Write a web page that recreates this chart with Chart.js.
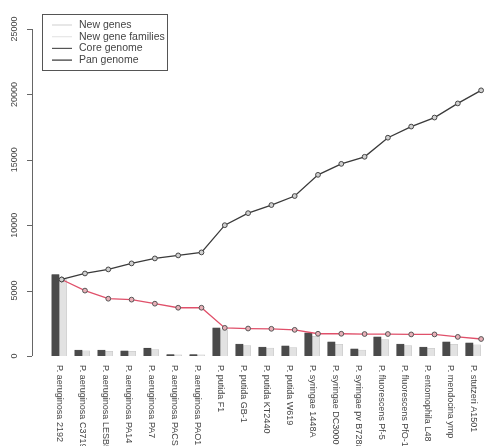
<!DOCTYPE html>
<html>
<head>
<meta charset="utf-8">
<script src="https://cdn.jsdelivr.net/npm/chart.js@4"></script>
<style>
  body { margin: 0; background: #fff; }
  #wrap { width: 489px; height: 446px; position: relative; }
</style>
</head>
<body>
<div id="wrap"><canvas id="genomeChart"></canvas></div>
<script>
const strains = [
    'P. aeruginosa 2192', 'P. aeruginosa C3719', 'P. aeruginosa LESB58', 'P. aeruginosa PA14',
    'P. aeruginosa PA7', 'P. aeruginosa PACS2', 'P. aeruginosa PAO1', 'P. putida F1',
    'P. putida GB-1', 'P. putida KT2440', 'P. putida W619', 'P. syringae 1448A',
    'P. syringae DC3000', 'P. syringae pv B728a', 'P. fluorescens Pf-5', 'P. fluorescens PfO-1',
    'P. entomophila L48', 'P. mendocina ymp', 'P. stutzeri A1501'
];
const newGenes = [6230, 460, 460, 400, 600, 100, 100, 2150, 920, 690, 770, 1770, 1080, 540, 1460, 920, 690, 1080, 1000];
const newFamilies = [5850, 400, 350, 350, 500, 80, 80, 2000, 800, 600, 650, 1500, 900, 450, 1250, 800, 580, 900, 850];
const coreGenome = [5850, 5000, 4380, 4310, 4000, 3690, 3690, 2150, 2100, 2080, 2000, 1700, 1700, 1680, 1680, 1650, 1650, 1460, 1300];
const panGenome = [5850, 6310, 6620, 7080, 7460, 7690, 7920, 10000, 10920, 11540, 12230, 13850, 14690, 15230, 16690, 17540, 18230, 19310, 20310];
const yTicks = [0, 5000, 10000, 15000, 20000, 25000];

const FONT = '"Liberation Sans", Arial, sans-serif';

function pts(values) {
    return values.map((v, i) => ({ x: i, y: v }));
}

// axes, rotated labels and boxed legend, R style
const baseGraphics = {
    id: 'baseGraphics',
    afterDraw(chart) {
        const ctx = chart.ctx;
        const y = chart.scales.y;
        const x = chart.scales.x;
        const axisX = chart.chartArea.left;
        ctx.save();

        // y axis
        ctx.strokeStyle = '#666';
        ctx.lineWidth = 1;
        ctx.beginPath();
        ctx.moveTo(axisX + 0.5, y.getPixelForValue(yTicks[0]));
        ctx.lineTo(axisX + 0.5, y.getPixelForValue(yTicks[yTicks.length - 1]));
        yTicks.forEach(t => {
            const py = Math.round(y.getPixelForValue(t)) + 0.5;
            ctx.moveTo(axisX - 5, py);
            ctx.lineTo(axisX, py);
        });
        ctx.stroke();

        ctx.fillStyle = '#444';
        ctx.font = '9px ' + FONT;
        ctx.textAlign = 'center';
        ctx.textBaseline = 'middle';
        yTicks.forEach(t => {
            ctx.save();
            ctx.translate(15, y.getPixelForValue(t));
            ctx.rotate(-Math.PI / 2);
            ctx.fillText(String(t), 0, 0);
            ctx.restore();
        });

        // x labels, reading downwards
        ctx.textAlign = 'left';
        ctx.font = '9px ' + FONT;
        strains.forEach((s, i) => {
            ctx.save();
            ctx.translate(x.getPixelForValue(i), chart.chartArea.bottom + 9);
            ctx.rotate(Math.PI / 2);
            ctx.fillText(s, 0, 0);
            ctx.restore();
        });

        // legend
        ctx.strokeStyle = '#555';
        ctx.strokeRect(42.5, 14.5, 125, 56);
        const items = [
            ['New genes', '#d8d8d8'],
            ['New gene families', '#e6e6e6'],
            ['Core genome', '#555'],
            ['Pan genome', '#333']
        ];
        ctx.font = '10.5px ' + FONT;
        ctx.textBaseline = 'middle';
        items.forEach((it, k) => {
            const ly = 25 + k * 11.7;
            ctx.strokeStyle = it[1];
            ctx.lineWidth = 1.2;
            ctx.beginPath();
            ctx.moveTo(52, ly);
            ctx.lineTo(72, ly);
            ctx.stroke();
            ctx.fillStyle = '#444';
            ctx.fillText(it[0], 79, ly);
        });
        ctx.restore();
    }
};

document.addEventListener('DOMContentLoaded', function() {
    const ctx = document.getElementById('genomeChart').getContext('2d');
    new Chart(ctx, {
        type: 'bar',
        data: {
            datasets: [
                {
                    type: 'line',
                    label: 'Pan genome',
                    data: pts(panGenome),
                    xAxisID: 'xl',
                    borderColor: '#3a3a3a',
                    borderWidth: 1.3,
                    pointRadius: 2.4,
                    pointBorderWidth: 1,
                    pointBorderColor: '#444',
                    pointBackgroundColor: '#d0d0d0',
                    order: 0,
                    clip: false
                },
                {
                    type: 'line',
                    label: 'Core genome',
                    data: pts(coreGenome),
                    xAxisID: 'xl',
                    borderColor: '#e0506a',
                    borderWidth: 1.3,
                    pointRadius: 2.4,
                    pointBorderWidth: 1,
                    pointBorderColor: '#555',
                    pointBackgroundColor: '#e8b0b8',
                    order: 0,
                    clip: false
                },
                {
                    label: 'New genes',
                    data: pts(newGenes),
                    xAxisID: 'x',
                    backgroundColor: '#4a4a4a',
                    borderColor: '#333',
                    borderWidth: 0.5,
                    barThickness: 7.5,
                    order: 1
                },
                {
                    label: 'New gene families',
                    data: pts(newFamilies),
                    xAxisID: 'x',
                    backgroundColor: '#e2e2e2',
                    borderColor: '#c4c4c4',
                    borderWidth: 0.5,
                    barThickness: 7.5,
                    order: 1
                }
            ]
        },
        options: {
            responsive: true,
            maintainAspectRatio: false,
            animation: false,
            layout: { padding: { left: 32, top: 29, right: 0, bottom: 90 } },
            plugins: {
                legend: { display: false },
                tooltip: { enabled: false }
            },
            scales: {
                x: {
                    type: 'linear',
                    display: false,
                    offset: false,
                    min: -1.183,
                    max: 18.473
                },
                xl: {
                    type: 'linear',
                    display: false,
                    offset: false,
                    min: -1.273,
                    max: 18.124
                },
                y: {
                    display: false,
                    min: 0,
                    max: 25000
                }
            }
        },
        plugins: [baseGraphics]
    });
});
</script>
</body>
</html>
